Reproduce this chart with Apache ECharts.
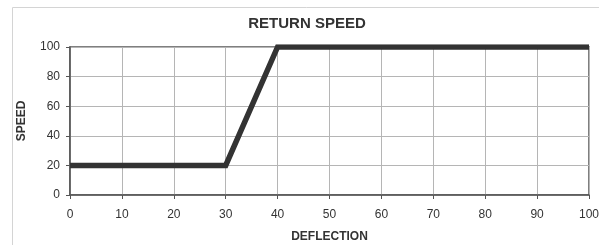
<!DOCTYPE html>
<html>
<head>
<meta charset="utf-8">
<script src="https://cdn.jsdelivr.net/npm/echarts@6/dist/echarts.min.js"></script>
<style>
  html, body { margin: 0; padding: 0; background: #fff; }
  #chart { width: 599px; height: 245px; }
</style>
</head>
<body>
<div id="chart"></div>
<script>
// deflection vs return speed
var deflection = [0, 30, 40, 100];
var speed = [20, 20, 100, 100];
var xTicks = [0, 10, 20, 30, 40, 50, 60, 70, 80, 90, 100];
var yTicks = [0, 20, 40, 60, 80, 100];

var myChart = echarts.init(document.getElementById('chart'));
var points = [];
for (var i = 0; i < deflection.length; i++) {
  points.push([deflection[i], speed[i]]);
}
var font = 'Liberation Sans, Arial, sans-serif';
option = {
  animation: false,
  graphic: [{
    type: 'rect',
    shape: { x: 12.5, y: 7.5, width: 600, height: 260 },
    style: { fill: 'none', stroke: '#d4d4d4', lineWidth: 1 }
  }, {
    // title is centred on the outer frame, not the page
    type: 'text',
    x: 307, y: 24,
    style: {
      text: 'RETURN SPEED', align: 'center', verticalAlign: 'middle',
      fontFamily: font, fontSize: 15, fontWeight: 'bold', fill: '#333'
    }
  }],
  grid: { left: 70, right: 10, top: 47, bottom: 50, outerBoundsMode: 'none', containLabel: false,
    show: true, borderColor: '#555', borderWidth: 1.5 },
  xAxis: {
    type: 'value', min: 0, max: 100, interval: 10,
    name: 'DEFLECTION', nameLocation: 'middle', nameGap: 36,
    nameTextStyle: { fontFamily: font, fontSize: 12, fontWeight: 'bold', color: '#333' },
    axisLine: { show: true, lineStyle: { color: '#555', width: 1.5 } },
    axisTick: { show: true, length: 4, lineStyle: { color: '#555' } },
    axisLabel: { fontFamily: font, fontSize: 12, color: '#333', margin: 14,
      formatter: function (v) { return xTicks.indexOf(v) >= 0 ? String(v) : ''; } },
    splitLine: { show: true, lineStyle: { color: '#b5b5b5', width: 1 } }
  },
  yAxis: {
    type: 'value', min: 0, max: 100, interval: 20,
    name: 'SPEED', nameLocation: 'middle', nameGap: 42, nameRotate: 90,
    nameTextStyle: { fontFamily: font, fontSize: 12, fontWeight: 'bold', color: '#333' },
    axisLine: { show: true, lineStyle: { color: '#555', width: 1.5 } },
    axisTick: { show: true, length: 4, lineStyle: { color: '#555' } },
    axisLabel: { fontFamily: font, fontSize: 12, color: '#333', margin: 10,
      formatter: function (v) { return yTicks.indexOf(v) >= 0 ? String(v) : ''; } },
    splitLine: { show: true, lineStyle: { color: '#b5b5b5', width: 1 } }
  },
  series: [{
    type: 'line',
    data: points,
    symbol: 'none',
    lineStyle: { color: '#333', width: 5.5, join: 'miter' }
  }]
};
myChart.setOption(option);
</script>
</body>
</html>
